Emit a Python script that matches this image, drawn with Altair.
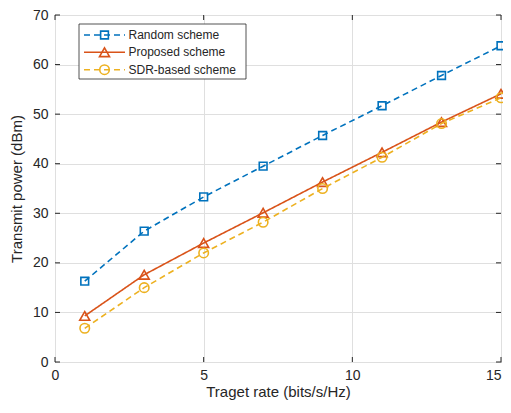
import altair as alt
import pandas as pd

# ---- data ----
rates = [1, 3, 5, 7, 9, 11, 13, 15]
random_scheme = [16.3, 26.4, 33.3, 39.5, 45.7, 51.7, 57.8, 63.8]
proposed_scheme = [9.3, 17.6, 24.0, 30.1, 36.3, 42.3, 48.4, 54.1]
sdr_scheme = [6.8, 15.0, 22.0, 28.2, 35.0, 41.3, 48.1, 53.3]
names = ["Random scheme", "Proposed scheme", "SDR-based scheme"]
x_ticks = [0, 5, 10, 15]
y_ticks = [0, 10, 20, 30, 40, 50, 60, 70]

# ---- styles ----
colors = ["#0072BD", "#D95319", "#EDB120"]
shapes = ["square", "triangle-up", "circle"]
msizes = [60, 100, 90]
dashes = [[6, 4], [1, 0], [6, 4]]
FONT = "Liberation Sans"
INK = "#262626"
LEFT, TOP = 47, 7
W, H = 446, 347

xs = alt.Scale(domain=[0, 15], nice=False)
ys = alt.Scale(domain=[0, 70], nice=False)

xaxis = alt.Axis(values=x_ticks, title="Traget rate (bits/s/Hz)", grid=True,
                 gridColor="#dfdfdf", domain=False, ticks=False, labelPadding=6,
                 labelFontSize=14, labelColor=INK, labelFont=FONT,
                 labelAlign={"expr": "datum.value == 15 ? 'right' : 'center'"},
                 titleFontSize=15, titleFont=FONT, titleColor=INK,
                 titleFontWeight="normal", titlePadding=2, labelFlush=False)
yaxis = alt.Axis(values=y_ticks, title="Transmit power (dBm)", grid=True,
                 gridColor="#dfdfdf", domain=False, ticks=False, labelPadding=7,
                 labelFontSize=14, labelColor=INK, labelFont=FONT,
                 titleFontSize=15, titleFont=FONT, titleColor=INK,
                 titleFontWeight="normal", titlePadding=8)


def X():
    return alt.X("rate:Q", scale=xs, axis=xaxis)


def Y():
    return alt.Y("power:Q", scale=ys, axis=yaxis)


series = [random_scheme, proposed_scheme, sdr_scheme]
one = pd.DataFrame({"a": [0]})

layers = []

# inward ticks
xt = pd.DataFrame({"rate": x_ticks})
yt = pd.DataFrame({"power": y_ticks})
for y0, y1 in [(H, H - 5), (0, 5)]:
    layers.append(alt.Chart(xt).mark_rule(color=INK, strokeWidth=1).encode(
        x=X(), y=alt.value(y0), y2=alt.value(y1)))
for x0, x1 in [(0, 5), (W, W - 5)]:
    layers.append(alt.Chart(yt).mark_rule(color=INK, strokeWidth=1).encode(
        y=Y(), x=alt.value(x0), x2=alt.value(x1)))

# series
for vals, c, s, ms, d in zip(series, colors, shapes, msizes, dashes):
    df = pd.DataFrame({"rate": rates, "power": vals})
    layers.append(alt.Chart(df).mark_line(color=c, strokeWidth=1.6, strokeDash=d).encode(x=X(), y=Y()))
    layers.append(alt.Chart(df).mark_point(shape=s, size=ms, color=c, filled=False,
                                           strokeWidth=1.6, opacity=1).encode(x=X(), y=Y()))

# legend box (page coords -> plot coords)
bx0, bx1, by0, by1 = 79 - 8 - LEFT, 246 - 8 - LEFT, 24 - 8 - TOP, 79 - 8 - TOP
layers.append(alt.Chart(one).mark_rect(fill="white", stroke=INK, strokeWidth=0.8).encode(
    x=alt.value(bx0), x2=alt.value(bx1), y=alt.value(by0), y2=alt.value(by1)))
row_y = [35 - 8 - TOP, 52.3 - 8 - TOP, 69.7 - 8 - TOP]
for name, c, s, ms, d, ry in zip(names, colors, shapes, msizes, dashes, row_y):
    layers.append(alt.Chart(one).mark_rule(color=c, strokeWidth=1.6, strokeDash=d).encode(
        x=alt.value(84 - 8 - LEFT), x2=alt.value(125 - 8 - LEFT), y=alt.value(ry)))
    layers.append(alt.Chart(one).mark_point(shape=s, size=ms, color=c, filled=False,
                                            strokeWidth=1.6, opacity=1).encode(
        x=alt.value(104.5 - 8 - LEFT), y=alt.value(ry)))
    layers.append(alt.Chart(one).mark_text(text=name, align="left", baseline="middle",
                                           font=FONT, fontSize=12, color=INK).encode(
        x=alt.value(128.5 - 8 - LEFT), y=alt.value(ry)))

chart = alt.layer(*layers).properties(
    width=W, height=H,
    autosize=alt.AutoSizeParams(type="none"),
    padding={"left": LEFT, "top": TOP, "right": 2, "bottom": 42},
).configure_view(stroke=INK, strokeWidth=1)

chart.save("out.html", embed_options={"renderer": "svg", "actions": False})
